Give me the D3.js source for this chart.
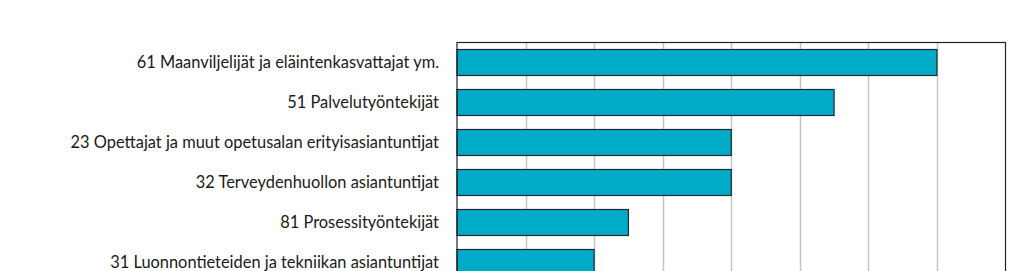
<!DOCTYPE html>
<html>
<head>
<meta charset="utf-8">
<script src="https://cdn.jsdelivr.net/npm/d3@7"></script>
<style>
  body { margin: 0; background: #fff; }
  #chart { width: 1024px; height: 271px; overflow: hidden; }
  .label { font-family: Lato, sans-serif; font-size: 16.4px; fill: #1a1a1a; }
</style>
</head>
<body>
<div id="chart"></div>
<script>
var categories = [
    "61 Maanviljelijät ja eläintenkasvattajat ym.",
    "51 Palvelutyöntekijät",
    "23 Opettajat ja muut opetusalan erityisasiantuntijat",
    "32 Terveydenhuollon asiantuntijat",
    "81 Prosessityöntekijät",
    "31 Luonnontieteiden ja tekniikan asiantuntijat"
];
var values = [7, 5.5, 4, 4, 2.5, 2];
var xTicks = [0, 1, 2, 3, 4, 5, 6, 7, 8];

function drawChart() {
    var divElement = document.getElementById("chart");
    var width = 1024;
    var height = 300;
    var left = 457, right = 1005.5, top = 42.5;
    var step = 40;

    var svg = d3.select(divElement)
        .append("svg")
        .attr("width", width)
        .attr("height", height);

    var xScale = d3.scaleLinear().domain([0, 8]).range([left, right]);
    var yScale = d3.scaleBand()
        .domain(categories)
        .range([top, top + step * categories.length])
        .paddingInner(0.35)
        .paddingOuter(0.175);
    var bottom = top + step * categories.length;

    // grid lines
    svg.append("g")
        .selectAll("line")
        .data(xTicks.slice(1, -1))
        .enter()
        .append("line")
        .attr("x1", d => Math.round(xScale(d)) + 0.5)
        .attr("x2", d => Math.round(xScale(d)) + 0.5)
        .attr("y1", top)
        .attr("y2", bottom)
        .attr("stroke", "#c4c4c4")
        .attr("stroke-width", 1.5);

    svg.append("g")
        .selectAll("rect")
        .data(values)
        .enter()
        .append("rect")
        .attr("x", xScale(0))
        .attr("y", (d, i) => yScale(categories[i]))
        .attr("width", d => xScale(d) - xScale(0))
        .attr("height", yScale.bandwidth())
        .attr("fill", "#00abc8")
        .attr("stroke", "#1b2b33")
        .attr("stroke-width", 1.2);

    // plot frame
    svg.append("rect")
        .attr("x", left)
        .attr("y", top)
        .attr("width", right - left)
        .attr("height", bottom - top)
        .attr("fill", "none")
        .attr("stroke", "#222")
        .attr("stroke-width", 1.2);

    svg.append("g")
        .selectAll("text")
        .data(categories)
        .enter()
        .append("text")
        .attr("class", "label")
        .attr("x", 439)
        .attr("y", d => yScale(d) + yScale.bandwidth() / 2)
        .attr("dy", "0.35em")
        .attr("text-anchor", "end")
        .text(d => d);
}

drawChart();
</script>
</body>
</html>
